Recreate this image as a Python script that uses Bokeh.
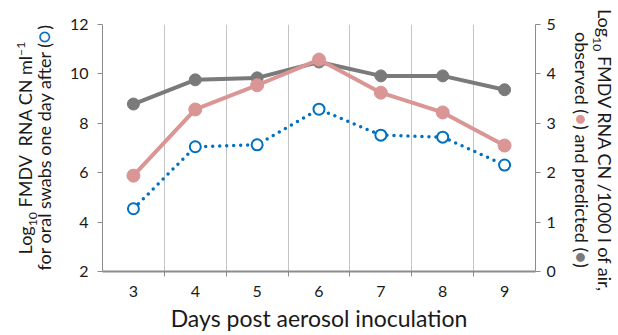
from bokeh.plotting import figure
from bokeh.layouts import row
from bokeh.models import Range1d, LinearAxis, FixedTicker, Div
from bokeh.embed import file_html
from bokeh.resources import INLINE

# ---------------- data ----------------
days = [3, 4, 5, 6, 7, 8, 9]
oral_swab_log = [4.54, 7.05, 7.13, 8.57, 7.52, 7.44, 6.31]      # left axis
air_observed_log = [1.94, 3.28, 3.77, 4.29, 3.62, 3.22, 2.55]  # right axis
air_predicted_log = [3.39, 3.88, 3.92, 4.24, 3.96, 3.96, 3.68] # right axis
left_ticks = [2, 4, 6, 8, 10, 12]
right_ticks = [0, 1, 2, 3, 4, 5]
x_title = "Days post aerosol inoculation"

# ---------------- style ----------------
FONT = "Lato"
TXT = "#1a1a1a"
AX = "#8c8c8c"
GRID = "#c4c4c4"
GRAY = "#7a7a7a"
PINK = "#d99694"
BLUE = "#0070c0"

H = 334
W_LEFT = 66
W_MAIN = 493
W_RIGHT = 57

day_bounds = [d + 0.5 for d in days[:-1]]

p = figure(width=W_MAIN, height=H, x_range=Range1d(2.5, 9.5), y_range=Range1d(2, 12),
           output_backend="svg", toolbar_location=None,
           min_border_left=33, min_border_right=24, min_border_top=24, min_border_bottom=62)
p.outline_line_color = None
p.extra_y_ranges = {"air": Range1d(0, 5)}

# grid
p.ygrid.grid_line_color = None
p.xgrid.ticker = FixedTicker(ticks=day_bounds)
p.xgrid.grid_line_color = GRID
p.xgrid.grid_line_width = 1

# x axis
xa = p.xaxis[0]
xa.ticker = FixedTicker(ticks=days, minor_ticks=day_bounds)
xa.major_tick_out = 0
xa.major_tick_in = 0
xa.minor_tick_out = 5
xa.minor_tick_in = 0
xa.minor_tick_line_color = AX
xa.axis_line_color = AX
xa.axis_line_width = 2
xa.major_label_standoff = 9
xa.major_label_text_font = FONT
xa.major_label_text_font_size = "16px"
xa.major_label_text_color = TXT
xa.axis_label = x_title
xa.axis_label_text_font = FONT
xa.axis_label_text_font_size = "23px"
xa.axis_label_text_font_style = "normal"
xa.axis_label_text_color = TXT
xa.axis_label_standoff = 4

# left axis
ya = p.yaxis[0]
ya.ticker = FixedTicker(ticks=left_ticks)
ya.major_tick_out = 5
ya.major_tick_in = 0
ya.minor_tick_line_color = None
ya.axis_line_color = AX
ya.major_tick_line_color = AX
ya.major_label_standoff = 9
ya.major_label_text_font = FONT
ya.major_label_text_font_size = "16px"
ya.major_label_text_color = TXT

# right axis
ra = LinearAxis(y_range_name="air", ticker=FixedTicker(ticks=right_ticks))
ra.major_tick_out = 5
ra.major_tick_in = 0
ra.minor_tick_line_color = None
ra.axis_line_color = AX
ra.major_tick_line_color = AX
ra.major_label_standoff = 6
ra.major_label_text_font = FONT
ra.major_label_text_font_size = "16px"
ra.major_label_text_color = TXT
p.add_layout(ra, "right")

# series
p.line(days, air_predicted_log, y_range_name="air", line_color=GRAY, line_width=4)
p.scatter(days, air_predicted_log, y_range_name="air", size=12, fill_color=GRAY, line_color=GRAY)
p.line(days, air_observed_log, y_range_name="air", line_color=PINK, line_width=4)
p.scatter(days, air_observed_log, y_range_name="air", size=13, fill_color=PINK, line_color=PINK)
p.line(days, oral_swab_log, line_color=BLUE, line_width=3.5, line_dash="0 7", line_cap="round")
p.scatter(days, oral_swab_log, size=11, fill_color="white", line_color=BLUE, line_width=2)

# ---------------- rotated axis titles (HTML, so symbols can be coloured) ----------------
SUBSUP = "font-size:0.68em;line-height:0;"
SYM_O = f"color:{BLUE};font-size:1.1em;margin:0 1px;"
SYM_P = f"color:{PINK};font-size:1.0em;margin:0 2px;"
SYM_G = f"color:{GRAY};font-size:1.0em;margin:0 2px;"
VERT = "writing-mode:vertical-rl;text-orientation:sideways;"
left_html = (
    f'<div style="width:{W_LEFT}px;height:296px;display:flex;align-items:center;'
    f'justify-content:center;padding-left:2px;box-sizing:border-box;">'
    f'<div style="{VERT}transform:rotate(180deg);font-family:{FONT};'
    f'font-size:18px;line-height:18px;text-align:center;white-space:nowrap;color:{TXT};">'
    f'Log<sub style="{SUBSUP}">10</sub> FMDV&nbsp; RNA CN ml<sup style="{SUBSUP}">\u22121</sup><br>'
    f'for oral swabs one day after (<span style="{SYM_O}">\u25cb</span>)'
    f'</div></div>'
)
right_html = (
    f'<div style="width:{W_RIGHT}px;height:300px;display:flex;align-items:center;'
    f'justify-content:center;padding-left:10px;box-sizing:border-box;">'
    f'<div style="{VERT}font-family:{FONT};'
    f'font-size:18px;line-height:23px;text-align:center;white-space:nowrap;color:{TXT};">'
    f'Log<sub style="{SUBSUP}">10</sub> FMDV RNA CN /1000 l of air,<br>'
    f'observed (<span style="{SYM_P}">\u25cf</span>) and predicted '
    f'(<span style="{SYM_G}">\u25cf</span>)'
    f'</div></div>'
)
lf = Div(text=left_html, width=W_LEFT, height=H, margin=(0, 0, 0, 0))
rf = Div(text=right_html, width=W_RIGHT, height=H, margin=(0, 0, 0, 0))

layout = row(lf, p, rf)
open("out.html", "w").write(file_html(layout, INLINE))
